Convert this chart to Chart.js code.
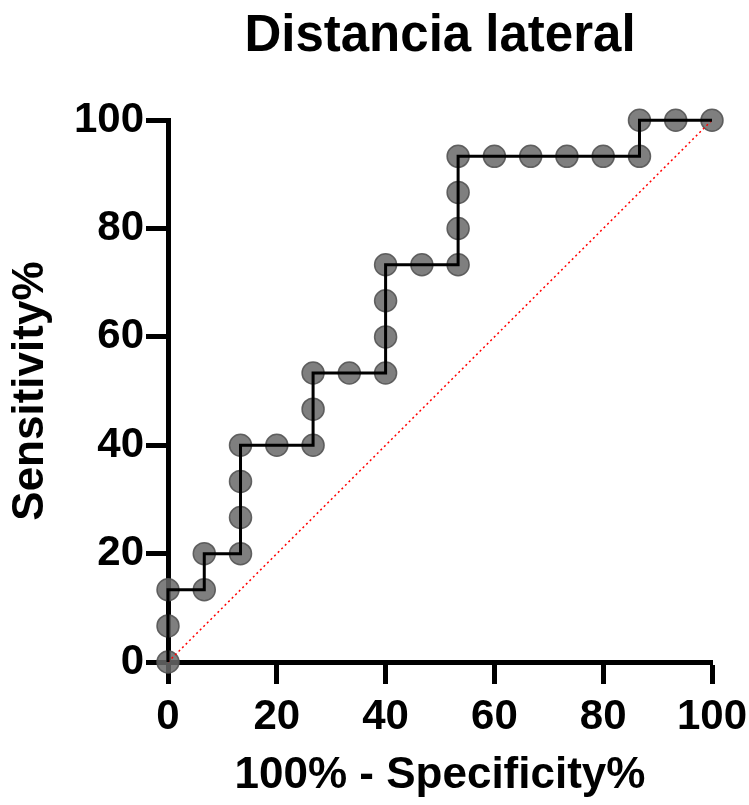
<!DOCTYPE html>
<html>
<head>
<meta charset="utf-8">
<title>Distancia lateral</title>
<script src="https://cdn.jsdelivr.net/npm/chart.js@4/dist/chart.umd.min.js"></script>
<style>
  html, body { margin: 0; padding: 0; background: #ffffff; }
  #wrap { width: 749px; height: 805px; position: relative; }
</style>
</head>
<body>
<div id="wrap"><canvas id="roc"></canvas></div>
<script>
// ROC curve points: 100% - Specificity% (x) and Sensitivity% (y)
const specificityPct = [0, 0, 0, 6.667, 6.667, 13.33, 13.33, 13.33, 13.33, 20, 26.67, 26.67, 26.67, 33.33, 40, 40, 40, 40, 46.67, 53.33, 53.33, 53.33, 53.33, 60, 66.67, 73.33, 80, 86.67, 86.67, 93.33, 100];
const sensitivityPct = [0, 6.667, 13.33, 13.33, 20, 20, 26.67, 33.33, 40, 40, 40, 46.67, 53.33, 53.33, 53.33, 60, 66.67, 73.33, 73.33, 73.33, 80, 86.67, 93.33, 93.33, 93.33, 93.33, 93.33, 93.33, 100, 100, 100];
// Line of identity
const chanceX = [0, 100];
const chanceY = [0, 100];
const axisTicks = [0, 20, 40, 60, 80, 100];

const chartTitle = 'Distancia lateral';
const xTitle = '100% - Specificity%';
const yTitle = 'Sensitivity%';

const rocPoints = specificityPct.map((x, i) => ({ x: x, y: sensitivityPct[i] }));
const chancePoints = chanceX.map((x, i) => ({ x: x, y: chanceY[i] }));

const FONT = '"Liberation Sans", Arial, Helvetica, sans-serif';

function axisOptions(titleText, titlePadding) {
  return {
    type: 'linear',
    min: 0,
    max: 100,
    z: 1,
    afterBuildTicks: (scale) => { scale.ticks = axisTicks.map(v => ({ value: v })); },
    ticks: {
      color: '#000000',
      font: { family: FONT, size: 42, weight: 'bold' },
      padding: 2
    },
    grid: {
      drawOnChartArea: false,
      drawTicks: true,
      tickLength: 22,
      tickWidth: 5,
      tickColor: '#000000',
      color: '#000000'
    },
    border: { display: true, color: '#000000', width: 5 },
    title: {
      display: true,
      text: titleText,
      color: '#000000',
      font: { family: FONT, size: 44, weight: 'bold' },
      padding: titlePadding
    }
  };
}

const xScale = axisOptions(xTitle, { top: 0, bottom: 3 });
xScale.position = 'bottom';
xScale.ticks.padding = 8;
xScale.afterFit = (scale) => {
  scale.height = 143;
  // let the layout padding alone decide where the axis ends
  scale.paddingLeft = 0;
  scale.paddingRight = 0;
};

const yScale = axisOptions(yTitle, { top: 4, bottom: 0 });
yScale.position = 'left';
yScale.afterFit = (scale) => { scale.width = 168; };

new Chart(document.getElementById('roc'), {
  type: 'scatter',
  data: {
    datasets: [
      {
        label: 'ROC',
        data: rocPoints,
        showLine: true,
        borderColor: '#000000',
        borderWidth: 3,
        pointRadius: 0,
        pointHoverRadius: 0,
        fill: false,
        tension: 0,
        clip: false,
        order: 0
      },
      {
        label: 'Chance',
        data: chancePoints,
        showLine: true,
        borderColor: '#ff0000',
        borderWidth: 1.5,
        borderDash: [2, 3],
        pointRadius: 0,
        pointHoverRadius: 0,
        fill: false,
        clip: false,
        order: 1
      },
      {
        label: 'ROC points',
        data: rocPoints,
        showLine: false,
        pointRadius: 11,
        pointHoverRadius: 11,
        pointBackgroundColor: 'rgba(105,105,105,0.85)',
        pointBorderColor: 'rgba(85,85,85,0.9)',
        pointBorderWidth: 1.5,
        clip: false,
        order: 2
      }
    ]
  },
  options: {
    responsive: true,
    maintainAspectRatio: false,
    animation: false,
    events: [],
    layout: { padding: { left: 0, right: 37, top: 0, bottom: 0 } },
    scales: { x: xScale, y: yScale },
    plugins: {
      legend: { display: false },
      tooltip: { enabled: false },
      title: {
        display: true,
        text: chartTitle,
        fullSize: false,
        color: '#000000',
        font: { family: FONT, size: 51, weight: 'bold', lineHeight: 1.2 },
        padding: { top: 6, bottom: 53 }
      }
    }
  }
});
</script>
</body>
</html>
